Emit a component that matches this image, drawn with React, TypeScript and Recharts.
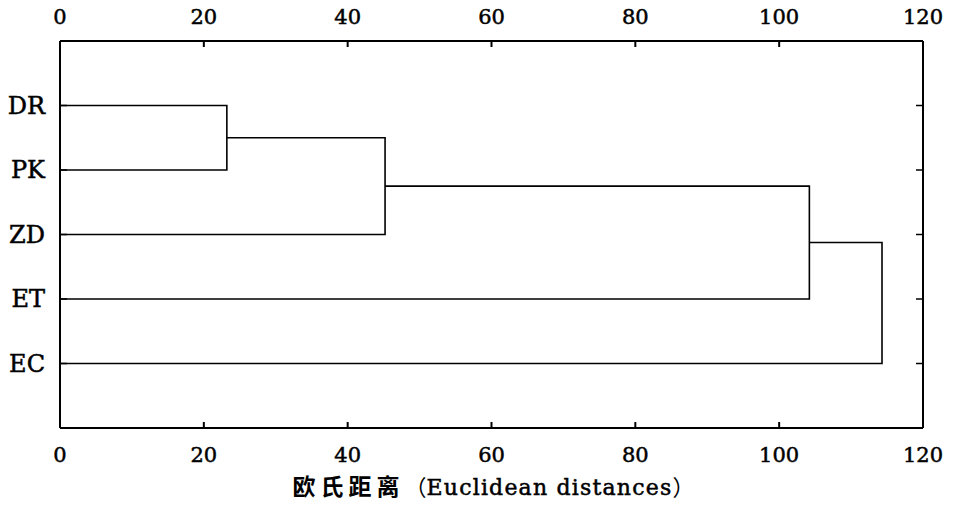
import React from "react";
import { ScatterChart, Scatter, XAxis, YAxis } from "recharts";

const leaves = ["DR", "PK", "ZD", "ET", "EC"];
// distance at which each successive leaf joins the growing cluster (PK, ZD, ET, EC)
const mergeHeights = [23.2, 45.2, 104.2, 114.3];
const distanceTicks = [0, 20, 40, 60, 80, 100, 120];
const leafTicks = [1, 2, 3, 4, 5];
const titleCn = "欧氏距离";
const titleEn = "（Euclidean distances）";

type Pt = { x: number; y: number };

// build one U-shaped link per merge from the values above
const links: Pt[][] = (() => {
  const out: Pt[][] = [];
  let node: Pt = { x: 0, y: 1 };
  mergeHeights.forEach((h, i) => {
    const ry = i + 2;
    out.push([
      { x: node.x, y: node.y },
      { x: h, y: node.y },
      { x: h, y: ry },
      { x: 0, y: ry },
    ]);
    node = { x: h, y: (node.y + ry) / 2 };
  });
  return out;
})();
const allPts = links.flat();

const serif = "'DejaVu Serif', 'Liberation Serif', serif";
const cjk = "'Noto Sans CJK SC', sans-serif";
const frame = { stroke: "#000", strokeWidth: 2 };
const heavy = { stroke: "#000", strokeWidth: 0.5 };

const NoDot = () => <g />;

const TopTick = ({ x, y, payload }: any) => (
  <g>
    <line x1={x} x2={x} y1={y} y2={y + 6} stroke="#000" strokeWidth={2} />
    <text x={x} y={y - 17} textAnchor="middle" fontSize={21} fontFamily={serif} fill="#000" {...heavy}>
      {payload.value}
    </text>
  </g>
);

const BottomTick = ({ x, y, payload }: any) => (
  <g>
    <line x1={x} x2={x} y1={y} y2={y - 6} stroke="#000" strokeWidth={2} />
    <text x={x} y={y + 34} textAnchor="middle" fontSize={21} fontFamily={serif} fill="#000" {...heavy}>
      {payload.value}
    </text>
  </g>
);

const RightTick = ({ x, y }: any) => (
  <line x1={x} x2={x - 7} y1={y} y2={y} stroke="#000" strokeWidth={1.5} />
);

const LeafTick = ({ x, y, payload }: any) => (
  <g>
    <line x1={x} x2={x + 7} y1={y} y2={y} stroke="#000" strokeWidth={1.5} />
    <text x={x - 15} y={y + 8} textAnchor="end" fontSize={24} fontFamily={serif} fill="#000" {...heavy}>
      {leaves[payload.value - 1] ?? ""}
    </text>
  </g>
);

const Title = ({ viewBox }: any) => {
  const cx = viewBox.x + viewBox.width / 2;
  return (
    <text x={cx + 2} y={495} textAnchor="middle" fill="#000">
      <tspan fontFamily={cjk} fontWeight="bold" fontSize={23} letterSpacing={5}>
        {titleCn}
      </tspan>
      <tspan fontFamily={cjk} fontSize={22}>{titleEn.slice(0, 1)}</tspan>
      <tspan fontFamily={serif} fontSize={22} letterSpacing={1.2} {...heavy}>
        {titleEn.slice(1, -1)}
      </tspan>
      <tspan fontFamily={cjk} fontSize={22}>{titleEn.slice(-1)}</tspan>
    </text>
  );
};

export default function App() {
  return (
    <div style={{ position: "absolute", left: 0, top: 0, background: "#fff" }}>
      <ScatterChart
        width={956}
        height={515}
        margin={{ top: 11, right: 23, left: 0, bottom: 57 }}
      >
        <XAxis
          xAxisId="top"
          orientation="top"
          type="number"
          dataKey="x"
          domain={[0, 120]}
          ticks={distanceTicks}
          interval={0}
          height={30}
          axisLine={frame}
          tickLine={false}
          tickSize={0}
          tickMargin={0}
          tick={<TopTick />}
        />
        <XAxis
          xAxisId="bottom"
          orientation="bottom"
          type="number"
          dataKey="x"
          domain={[0, 120]}
          ticks={distanceTicks}
          interval={0}
          height={30}
          axisLine={frame}
          tickLine={false}
          tickSize={0}
          tickMargin={0}
          tick={<BottomTick />}
          label={{ content: <Title /> }}
        />
        <YAxis
          yAxisId="left"
          orientation="left"
          type="number"
          dataKey="y"
          domain={[0, 6]}
          reversed
          ticks={leafTicks}
          interval={0}
          width={60}
          axisLine={frame}
          tickLine={false}
          tickSize={0}
          tickMargin={0}
          tick={<LeafTick />}
        />
        <YAxis
          yAxisId="right"
          orientation="right"
          type="number"
          dataKey="y"
          domain={[0, 6]}
          reversed
          ticks={leafTicks}
          interval={0}
          width={10}
          axisLine={frame}
          tickLine={false}
          tickSize={0}
          tickMargin={0}
          tick={<RightTick />}
        />
        {links.map((pts, i) => (
          <Scatter
            key={i}
            xAxisId="bottom"
            yAxisId="left"
            data={pts}
            line={{ stroke: "#000", strokeWidth: 1.6 }}
            shape={NoDot}
            isAnimationActive={false}
          />
        ))}
        <Scatter
          xAxisId="top"
          yAxisId="right"
          data={allPts}
          shape={NoDot}
          isAnimationActive={false}
        />
      </ScatterChart>
    </div>
  );
}
